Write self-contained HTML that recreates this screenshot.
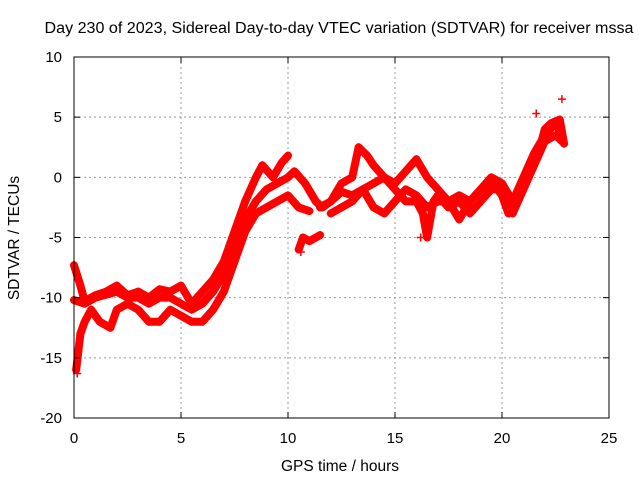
<!DOCTYPE html>
<html><head><meta charset="utf-8"><style>
body{margin:0;background:#fff}
svg text{font-family:"Liberation Sans",sans-serif;fill:#000}
</style></head><body>
<svg id="chart" width="640" height="480">
<text x="339" y="33" text-anchor="middle" font-size="15.5" textLength="589" lengthAdjust="spacingAndGlyphs">Day 230 of 2023, Sidereal Day-to-day VTEC variation (SDTVAR) for receiver mssa</text>
<text x="340" y="471" text-anchor="middle" font-size="15.5">GPS time / hours</text>
<text transform="translate(19,238) rotate(-90)" text-anchor="middle" font-size="15.5">SDTVAR / TECUs</text>
<g id="grid"></g><g id="data"></g><g id="axes"></g>
</svg>
<script>
const xTicks=[0,5,10,15,20,25];
const yTicks=[10,5,0,-5,-10,-15,-20];
const track1=[[0,-7.3],[0.3,-9],[0.5,-10.3],[1,-9.8],[1.5,-9.5],[2,-9],[2.5,-9.8],[3,-9.5],[3.5,-10],[4,-9.3],[4.5,-9.5],[5,-9],[5.5,-10.5],[6,-9.5],[6.5,-8.5],[7,-7],[7.5,-4.5],[8,-2],[8.5,0],[8.8,1],[9.3,0],[9.7,1.2],[10,1.8]];
const track2=[[0,-10.2],[0.5,-10.5],[1,-10],[2,-9.5],[2.5,-10],[3,-10],[3.5,-10.5],[4,-10],[4.5,-10],[5,-10.5],[5.5,-11],[6,-10.5],[6.5,-9.5],[7,-8],[7.5,-5.5],[8,-3.5],[8.5,-2],[9,-1],[9.5,-0.5],[10,0],[10.3,0.5],[10.8,-0.5],[11.3,-2],[11.6,-2.5],[12,-2],[12.5,-1.2],[13,-1.5],[13.5,-1],[14,-0.5],[14.5,0],[15,-0.5],[15.5,0.5],[16,1.5],[16.5,0],[17,-1],[17.5,-2],[18,-1.5],[18.5,-2],[19,-1],[19.5,0],[20,-0.5],[20.5,-2],[21,0],[21.5,2],[22,3.5],[22.5,4.5],[22.8,3.5]];
const track3=[[0.1,-16],[0.2,-14.5],[0.3,-13],[0.5,-12],[0.8,-11],[1.2,-12],[1.7,-12.5],[2,-11],[2.5,-10.5],[3,-11],[3.5,-12],[4,-12],[4.5,-11],[5,-11.5],[5.5,-12],[6,-12],[6.5,-11],[7,-9.5],[7.5,-7],[8,-4.5],[8.5,-3],[9,-2.5],[9.5,-2],[10,-1.5],[10.5,-2.5],[11,-2.8]];
const track4=[[10.5,-6],[10.7,-5],[11,-5.3],[11.5,-4.8]];
const track5=[[11.5,-2.5],[12,-2],[12.5,-0.5],[13,0],[13.3,2.5],[13.7,1.8],[14,1],[14.5,0],[15,-1],[15.5,-2],[16,-2],[16.3,-3],[16.5,-5],[16.8,-2],[17,-1.5],[17.5,-2.5],[18,-2],[18.5,-3],[19,-2],[19.5,-1],[20,-1],[20.5,-3],[21,-1],[21.5,1],[22,3],[22.5,3.5],[22.8,3]];
const track6=[[12,-3],[13,-2],[13.5,-1],[14,-2.5],[14.5,-3],[15,-2],[15.5,-1],[16,-1.5],[16.5,-2.5],[17,-2],[17.5,-2],[18,-3.5],[18.5,-2],[19,-1],[19.5,-0.3],[20,-1.5],[20.3,-3],[20.8,-1],[21.3,1],[21.7,2],[22,4],[22.3,4.5],[22.7,4.8],[22.9,2.8]];
const outliers=[[22.8,6.5],[21.6,5.3],[16.2,-5],[10.6,-6.2],[0.15,-16.3]];
const X=v=>74+v*(609-74)/25, Y=v=>57+(10-v)*(418-57)/30;
const NS='http://www.w3.org/2000/svg';
function mk(t,a,p){const e=document.createElementNS(NS,t);for(const k in a)e.setAttribute(k,a[k]);p.appendChild(e);return e;}
const grid=document.getElementById('grid'),axes=document.getElementById('axes'),data=document.getElementById('data');
xTicks.forEach(t=>{
 if(t>0&&t<25){const g=mk('line',{x1:X(t),x2:X(t),y1:57,y2:418,stroke:'#999','stroke-dasharray':'2,3'},grid);
 
 }
 const l=mk('text',{x:X(t),y:443,'text-anchor':'middle','font-size':'15'},axes);l.textContent=t;
 
 
 mk('line',{x1:X(t),x2:X(t),y1:418,y2:412,stroke:'#000'},axes);mk('line',{x1:X(t),x2:X(t),y1:57,y2:63,stroke:'#000'},axes);
});
yTicks.forEach(t=>{
 if(t>-20&&t<10){const g=mk('line',{x1:74,x2:609,y1:Y(t),y2:Y(t),stroke:'#999','stroke-dasharray':'2,3'},grid);
 
 }
 const l=mk('text',{x:62,y:Y(t)+5,'text-anchor':'end','font-size':'15'},axes);l.textContent=t;
 
 
 mk('line',{x1:74,x2:80,y1:Y(t),y2:Y(t),stroke:'#000'},axes);mk('line',{x1:609,x2:603,y1:Y(t),y2:Y(t),stroke:'#000'},axes);
});
const fr=mk('rect',{x:74,y:57,width:535,height:361,fill:'none',stroke:'#000'},axes);


[track1,track2,track3,track4,track5,track6].forEach((tr,i)=>{
 const pl=mk('polyline',{points:tr.map(p=>X(p[0])+','+Y(p[1])).join(' '),fill:'none',stroke:'#f00','stroke-width':8,'stroke-linejoin':'round','stroke-linecap':'round'},data);
 
 
});
[track1,track2,track3,track4,track5,track6,outliers].forEach(tr=>tr.forEach(p=>{
 const x=X(p[0]),y=Y(p[1]);
 const m=mk('path',{d:`M${x-4},${y}H${x+4}M${x},${y-4}V${y+4}`,stroke:'#f00','stroke-width':1.5},data);
 
 
}));
</script>
</body></html>
